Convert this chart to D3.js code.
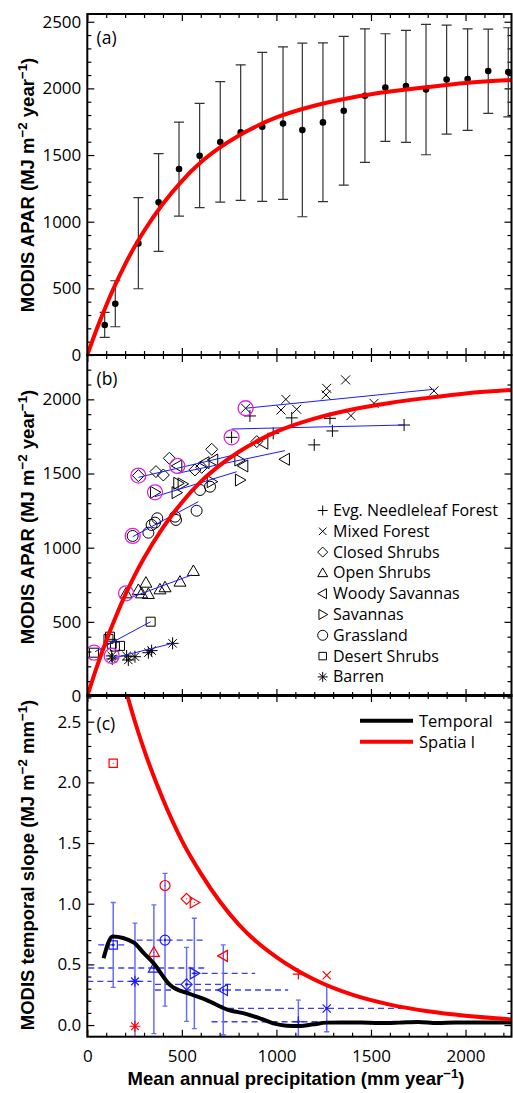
<!DOCTYPE html>
<html>
<head>
<meta charset="utf-8">
<script src="https://cdn.jsdelivr.net/npm/d3@7"></script>
<style>
  body { margin: 0; background: #fff; }
  svg { display: block; }
</style>
</head>
<body>
<svg id="chart" width="513" height="1093"></svg>
<script>
// ---- (a) APAR binned by mean annual precipitation ----
const binPrecip = [92, 148, 270, 377, 485, 594, 703, 811, 925, 1035, 1137, 1246, 1356, 1468, 1576, 1685, 1791, 1900, 2011, 2120, 2226];
const binApar   = [225, 385, 837, 1145, 1395, 1495, 1597, 1670, 1712, 1737, 1687, 1745, 1832, 1945, 2007, 2017, 1992, 2067, 2070, 2130, 2122];
const binLow    = [132, 212, 497, 777, 1042, 1105, 1147, 1160, 1152, 1167, 1037, 1150, 1275, 1445, 1602, 1595, 1502, 1657, 1685, 1812, 1787];
const binHigh   = [320, 557, 1180, 1510, 1747, 1887, 2050, 2177, 2270, 2312, 2340, 2342, 2390, 2447, 2410, 2435, 2480, 2475, 2447, 2445, 2455];

// spatial fit curve
const fitPrecip = [0, 50, 100, 150, 200, 250, 300, 400, 500, 600, 700, 800, 900, 1000, 1200, 1400, 1600, 1800, 2000, 2250];
const fitApar   = [0, 195, 372, 533, 680, 812, 930, 1135, 1305, 1445, 1555, 1645, 1720, 1782, 1870, 1932, 1976, 2010, 2040, 2064];

// ---- (b) sites per biome ----
const biomeNames = ['Evg. Needleleaf Forest', 'Mixed Forest', 'Closed Shrubs', 'Open Shrubs', 'Woody Savannas', 'Savannas', 'Grassland', 'Desert Shrubs', 'Barren'];
const biomeSymbols = ['plus', 'cross', 'diamond', 'triUp', 'triLeft', 'triRight', 'circle', 'square', 'asterisk'];

const enfSites = [[763, 1744], [860, 1888], [983, 1771], [1081, 1875], [1200, 1693], [1283, 1872], [1296, 1787], [1675, 1827]];
const mfSites = [[837, 1940], [1024, 1928], [1050, 2000], [1107, 1933], [1262, 2030], [1266, 2074], [1366, 2131], [1394, 1890], [1516, 1973], [1833, 2057]];
const csSites = [[270, 1486], [363, 1513], [402, 1490], [434, 1603], [569, 1524], [605, 1542], [658, 1663], [896, 1715]];
const osSites = [[205, 692], [270, 715], [287, 692], [310, 764], [323, 688], [384, 719], [411, 733], [490, 771], [561, 843]];
const wsSites = [[476, 1551], [620, 1573], [666, 1591], [825, 1551], [931, 1704], [1045, 1596]];
const savSites = [[358, 1373], [472, 1371], [481, 1434], [504, 1430], [658, 1445], [804, 1591], [807, 1456]];
const glSites = [[240, 1079], [323, 1101], [340, 1153], [358, 1169], [370, 1198], [464, 1209], [469, 1187], [578, 1249], [596, 1389], [649, 1411]];
const dsSites = [[35, 292], [112, 385], [120, 400], [129, 352], [146, 333], [173, 338], [335, 501]];
const barrenSites = [[129, 270], [132, 250], [208, 270], [217, 243], [252, 265], [323, 292], [340, 306], [451, 355]];
const biomeSites = [enfSites, mfSites, csSites, osSites, wsSites, savSites, glSites, dsSites, barrenSites];

// circled site and blue trend line per biome
const highlightSite = [[763, 1744], [837, 1940], [270, 1486], [205, 692], [476, 1551], [358, 1373], [240, 1079], [35, 292], [129, 270]];
const trendStart = [[763, 1800], [837, 1940], [270, 1474], [243, 670], [476, 1501], [358, 1344], [240, 1074], [41, 299], [132, 254]];
const trendEnd = [[1675, 1827], [1833, 2068], [790, 1629], [552, 816], [1045, 1654], [790, 1512], [587, 1310], [335, 501], [451, 355]];

// ---- (c) temporal vs spatial slope ----
const biomeMeanPrecip = [1116, 1266, 525, 352, 719, 566, 411, 137, 252];
const temporalSlope = [0.027, 0.137, 0.335, 0.47, 0.289, 0.426, 0.70, 0.66, 0.36];
const temporalLow = [-0.12, -0.055, 0.03, -0.07, -0.08, -0.03, 0.156, 0.31, -0.12];
const temporalHigh = [0.206, 0.33, 0.64, 0.99, 0.66, 0.88, 1.25, 1.01, 0.84];
const precipLow = [657, 744, 358, 5, 358, 552, 261, 58, 0];
const precipHigh = [1574, 1750, 771, 640, 1062, 887, 622, 208, 340];
const spatialSlope = [0.42, 0.41, 1.04, 0.60, 0.57, 1.01, 1.15, 2.157, -0.01];

const tempPrecip = [86, 134, 245, 300, 350, 438, 543, 631, 737, 843, 913, 983, 1054, 1125, 1195, 1266, 1350, 1450, 1550, 1650, 1750, 1850, 1950, 2050, 2150, 2243];
const tempSlope = [0.55, 0.73, 0.68, 0.59, 0.51, 0.33, 0.256, 0.206, 0.13, 0.09, 0.055, 0.014, -0.005, -0.008, 0.006, 0.02, 0.022, 0.02, 0.016, 0.02, 0.026, 0.016, 0.022, 0.02, 0.022, 0.02];
const spatPrecip = [200, 250, 300, 400, 500, 600, 700, 800, 900, 1000, 1200, 1400, 1600, 1800, 2000, 2250];
const spatSlope = [2.78, 2.51, 2.27, 1.86, 1.52, 1.25, 1.02, 0.83, 0.68, 0.56, 0.375, 0.25, 0.168, 0.113, 0.076, 0.046];

// ---- layout ----
const FONT = '"Open Sans", sans-serif';
const BOLD = '"Liberation Sans", Arial, sans-serif';
const RED = '#ff0000';
const BLUE = '#1a1aff';
const MAGENTA = '#e020e0';

const svg = d3.select('#chart');
const x = d3.scaleLinear().domain([0, 2243]).range([87.3, 511.5]);

const panels = [
  { key: 'a', top: 14, bottom: 355, domain: [0, 2558], ticks: d3.range(0, 2501, 500), minorStep: 100, fmt: d3.format('d'), labelY: 44, title: 185 },
  { key: 'b', top: 355, bottom: 696, domain: [0, 2299], ticks: d3.range(0, 2001, 500), minorStep: 100, fmt: d3.format('d'), labelY: 385, title: 517 },
  { key: 'c', top: 695, bottom: 1036.7, domain: [-0.096, 2.72], ticks: d3.range(0, 2.51, 0.5), minorStep: 0.1, fmt: d3.format('.1f'), labelY: 730, title: 865 }
];

function symbolPath(type, s) {
  const k = s * 0.75;
  switch (type) {
    case 'plus': return `M${-s},0H${s}M0,${-s}V${s}`;
    case 'cross': return `M${-k},${-k}L${k},${k}M${-k},${k}L${k},${-k}`;
    case 'diamond': return `M0,${-s}L${s},0L0,${s}L${-s},0Z`;
    case 'triUp': return `M0,${-s}L${s},${k}L${-s},${k}Z`;
    case 'triLeft': return `M${-s},0L${k},${-s}L${k},${s}Z`;
    case 'triRight': return `M${s},0L${-k},${-s}L${-k},${s}Z`;
    case 'circle': return `M${s},0A${s},${s} 0 1,1 ${-s},0A${s},${s} 0 1,1 ${s},0Z`;
    case 'square': return `M${-k},${-k}H${k}V${k}H${-k}Z`;
    case 'asterisk': {
      const d = s * 0.7;
      return `M${-s},0H${s}M0,${-s}V${s}M${-d},${-d}L${d},${d}M${-d},${d}L${d},${-d}`;
    }
  }
}

function styleAxis(sel, size) {
  sel.select('.domain').remove();
  sel.selectAll('line').attr('stroke', '#000').attr('stroke-width', 1.2);
  sel.selectAll('text').attr('font-family', FONT).attr('font-size', size).attr('fill', '#000');
}

function addSup(text, parts) {
  // parts: [string, isSuperscript]
  parts.forEach(([s, sup]) => {
    const t = text.append('tspan').text(s);
    if (sup) t.attr('font-size', '0.72em').attr('dy', '-0.5em');
    else if (text.selectAll('tspan').size() > 1) t.attr('dy', '0.36em');
  });
}

panels.forEach(p => {
  const y = d3.scaleLinear().domain(p.domain).range([p.bottom, p.top]);
  p.y = y;
  const g = svg.append('g').attr('class', 'panel-' + p.key);
  const [x0, x1] = x.range();

  const minorY = d3.range(Math.ceil(p.domain[0] / p.minorStep) * p.minorStep, p.domain[1], p.minorStep)
    .filter(v => p.ticks.every(t => Math.abs(t - v) > 1e-6));
  const minorX = d3.range(0, 2243, 100).filter(v => v % 500 !== 0);
  const majorX = d3.range(0, 2001, 500);

  // left
  g.append('g').attr('transform', `translate(${x0},0)`)
    .call(d3.axisLeft(y).tickValues(p.ticks).tickFormat(p.fmt).tickSize(-7).tickPadding(6))
    .call(s => styleAxis(s, 17));
  g.append('g').attr('transform', `translate(${x0},0)`)
    .call(d3.axisLeft(y).tickValues(minorY).tickFormat('').tickSize(-4))
    .call(s => styleAxis(s, 17));
  // right
  g.append('g').attr('transform', `translate(${x1},0)`)
    .call(d3.axisRight(y).tickValues(p.ticks).tickFormat('').tickSize(-7))
    .call(s => styleAxis(s, 17));
  g.append('g').attr('transform', `translate(${x1},0)`)
    .call(d3.axisRight(y).tickValues(minorY).tickFormat('').tickSize(-4))
    .call(s => styleAxis(s, 17));
  // top
  g.append('g').attr('transform', `translate(0,${p.top})`)
    .call(d3.axisTop(x).tickValues(majorX).tickFormat('').tickSize(-7))
    .call(s => styleAxis(s, 17));
  g.append('g').attr('transform', `translate(0,${p.top})`)
    .call(d3.axisTop(x).tickValues(minorX).tickFormat('').tickSize(-4))
    .call(s => styleAxis(s, 17));
  // bottom
  g.append('g').attr('transform', `translate(0,${p.bottom})`)
    .call(d3.axisBottom(x).tickValues(majorX).tickFormat(p.key === 'c' ? d3.format('d') : '').tickSize(-7).tickPadding(13))
    .call(s => styleAxis(s, 17));
  g.append('g').attr('transform', `translate(0,${p.bottom})`)
    .call(d3.axisBottom(x).tickValues(minorX).tickFormat('').tickSize(-4))
    .call(s => styleAxis(s, 17));

  svg.append('clipPath').attr('id', 'clip-' + p.key)
    .append('rect').attr('x', x0).attr('y', p.top).attr('width', x1 - x0).attr('height', p.bottom - p.top);
  p.plot = svg.append('g').attr('clip-path', `url(#clip-${p.key})`);
  p.frame = g;

  g.append('text').attr('x', 96.5).attr('y', p.labelY)
    .attr('font-family', FONT).attr('font-size', 17.5).text(`(${p.key})`);
});

const [pa, pb, pc] = panels;

// ---- panel (a) ----
const errA = pa.plot.append('g');
binPrecip.forEach((v, i) => {
  const cx = x(v);
  errA.append('line').attr('x1', cx).attr('x2', cx)
    .attr('y1', pa.y(binLow[i])).attr('y2', pa.y(binHigh[i]));
  [binLow[i], binHigh[i]].forEach(e => errA.append('line')
    .attr('x1', cx - 5).attr('x2', cx + 5).attr('y1', pa.y(e)).attr('y2', pa.y(e)));
});
errA.selectAll('line').attr('stroke', '#333').attr('stroke-width', 1.2);
pa.plot.append('g').selectAll('circle').data(binPrecip).join('circle')
  .attr('cx', d => x(d)).attr('cy', (d, i) => pa.y(binApar[i])).attr('r', 3.3).attr('fill', '#000');

const fitLine = y => d3.line().x(d => x(d[0])).y(d => y(d[1])).curve(d3.curveMonotoneX);
const fitData = d3.zip(fitPrecip, fitApar);
pa.plot.append('path').datum(fitData).attr('d', fitLine(pa.y))
  .attr('fill', 'none').attr('stroke', RED).attr('stroke-width', 4);

// ---- panel (b) ----
biomeSites.forEach((sites, i) => {
  pb.plot.append('g').selectAll('path').data(sites).join('path')
    .attr('transform', d => `translate(${x(d[0])},${pb.y(d[1])})`)
    .attr('d', symbolPath(biomeSymbols[i], biomeSymbols[i] === 'circle' ? 5.5 : 6))
    .attr('fill', 'none').attr('stroke', '#000').attr('stroke-width', 1);
});
biomeSites.forEach((sites, i) => {
  pb.plot.append('line')
    .attr('x1', x(trendStart[i][0])).attr('y1', pb.y(trendStart[i][1]))
    .attr('x2', x(trendEnd[i][0])).attr('y2', pb.y(trendEnd[i][1]))
    .attr('stroke', BLUE).attr('stroke-width', 1);
  pb.plot.append('circle')
    .attr('cx', x(highlightSite[i][0])).attr('cy', pb.y(highlightSite[i][1])).attr('r', 7.5)
    .attr('fill', 'none').attr('stroke', MAGENTA).attr('stroke-width', 1.3);
});
pb.plot.append('path').datum(fitData).attr('d', fitLine(pb.y))
  .attr('fill', 'none').attr('stroke', RED).attr('stroke-width', 4);

// legend (b)
const legB = svg.append('g');
biomeNames.forEach((name, i) => {
  const base = 516 + i * 20.8;
  legB.append('path').attr('transform', `translate(322.7,${base - 5.5})`)
    .attr('d', symbolPath(biomeSymbols[i], 5))
    .attr('fill', 'none').attr('stroke', '#000').attr('stroke-width', 1);
  legB.append('text').attr('x', 333).attr('y', base)
    .attr('font-family', FONT).attr('font-size', 16).text(name);
});

// ---- panel (c) ----
const gc = pc.plot.append('g');
biomeMeanPrecip.forEach((v, i) => {
  gc.append('line').attr('x1', x(precipLow[i])).attr('x2', x(precipHigh[i]))
    .attr('y1', pc.y(temporalSlope[i])).attr('y2', pc.y(temporalSlope[i]))
    .attr('stroke', BLUE).attr('stroke-width', 1.3).attr('stroke-dasharray', '6,4').attr('opacity', 0.85);
});
biomeMeanPrecip.forEach((v, i) => {
  const cx = x(v);
  gc.append('line').attr('x1', cx).attr('x2', cx)
    .attr('y1', pc.y(temporalLow[i])).attr('y2', pc.y(temporalHigh[i]))
    .attr('stroke', '#6a6aff').attr('stroke-width', 1.5);
  [temporalLow[i], temporalHigh[i]].forEach(e => gc.append('line')
    .attr('x1', cx - 2.5).attr('x2', cx + 2.5).attr('y1', pc.y(e)).attr('y2', pc.y(e))
    .attr('stroke', '#6a6aff').attr('stroke-width', 1.3));
});
biomeMeanPrecip.forEach((v, i) => {
  const s = biomeSymbols[i] === 'circle' ? 5 : 5.5;
  [[temporalSlope[i], BLUE], [spatialSlope[i], RED]].forEach(([val, col]) => {
    const t = `translate(${x(v)},${pc.y(val)})`;
    gc.append('path').attr('transform', t).attr('d', symbolPath(biomeSymbols[i], s))
      .attr('fill', 'none').attr('stroke', col).attr('stroke-width', 1.2);
    gc.append('circle').attr('transform', t).attr('r', col === BLUE ? 1.4 : 0.6).attr('fill', col);
  });
});
pc.plot.append('path').datum(d3.zip(tempPrecip, tempSlope))
  .attr('d', d3.line().x(d => x(d[0])).y(d => pc.y(d[1])).curve(d3.curveMonotoneX))
  .attr('fill', 'none').attr('stroke', '#000').attr('stroke-width', 4);
pc.plot.append('path').datum(d3.zip(spatPrecip, spatSlope))
  .attr('d', d3.line().x(d => x(d[0])).y(d => pc.y(d[1])).curve(d3.curveMonotoneX))
  .attr('fill', 'none').attr('stroke', RED).attr('stroke-width', 4);

// legend (c)
[['Temporal', '#000', 720.7], ['Spatia l', RED, 741.7]].forEach(([label, col, ly]) => {
  svg.append('line').attr('x1', 360).attr('x2', 413).attr('y1', ly).attr('y2', ly)
    .attr('stroke', col).attr('stroke-width', 4);
  svg.append('text').attr('x', 419).attr('y', ly + 6)
    .attr('font-family', FONT).attr('font-size', 16.5).text(label);
});

// frames on top
panels.forEach(p => {
  const [x0, x1] = x.range();
  svg.append('rect').attr('x', x0).attr('y', p.top).attr('width', x1 - x0).attr('height', p.bottom - p.top)
    .attr('fill', 'none').attr('stroke', '#000').attr('stroke-width', 2);
});

// ---- axis titles ----
function yTitle(cy, parts) {
  const t = svg.append('text')
    .attr('transform', `translate(33.5,${cy}) rotate(-90)`)
    .attr('text-anchor', 'middle')
    .attr('font-family', BOLD).attr('font-weight', 'bold').attr('font-size', 18.5);
  addSup(t, parts);
}
yTitle(pa.title, [['MODIS APAR (MJ m', false], ['\u22122', true], [' year', false], ['\u22121', true], [')', false]]);
yTitle(pb.title, [['MODIS APAR (MJ m', false], ['\u22122', true], [' year', false], ['\u22121', true], [')', false]]);
yTitle(pc.title, [['MODIS temporal slope (MJ m', false], ['\u22122', true], [' mm', false], ['\u22121', true], [')', false]]);

const xt = svg.append('text').attr('x', 296).attr('y', 1085).attr('text-anchor', 'middle')
  .attr('font-family', BOLD).attr('font-weight', 'bold').attr('font-size', 18.5);
addSup(xt, [['Mean annual precipitation (mm year', false], ['\u22121', true], [')', false]]);
</script>
</body>
</html>
